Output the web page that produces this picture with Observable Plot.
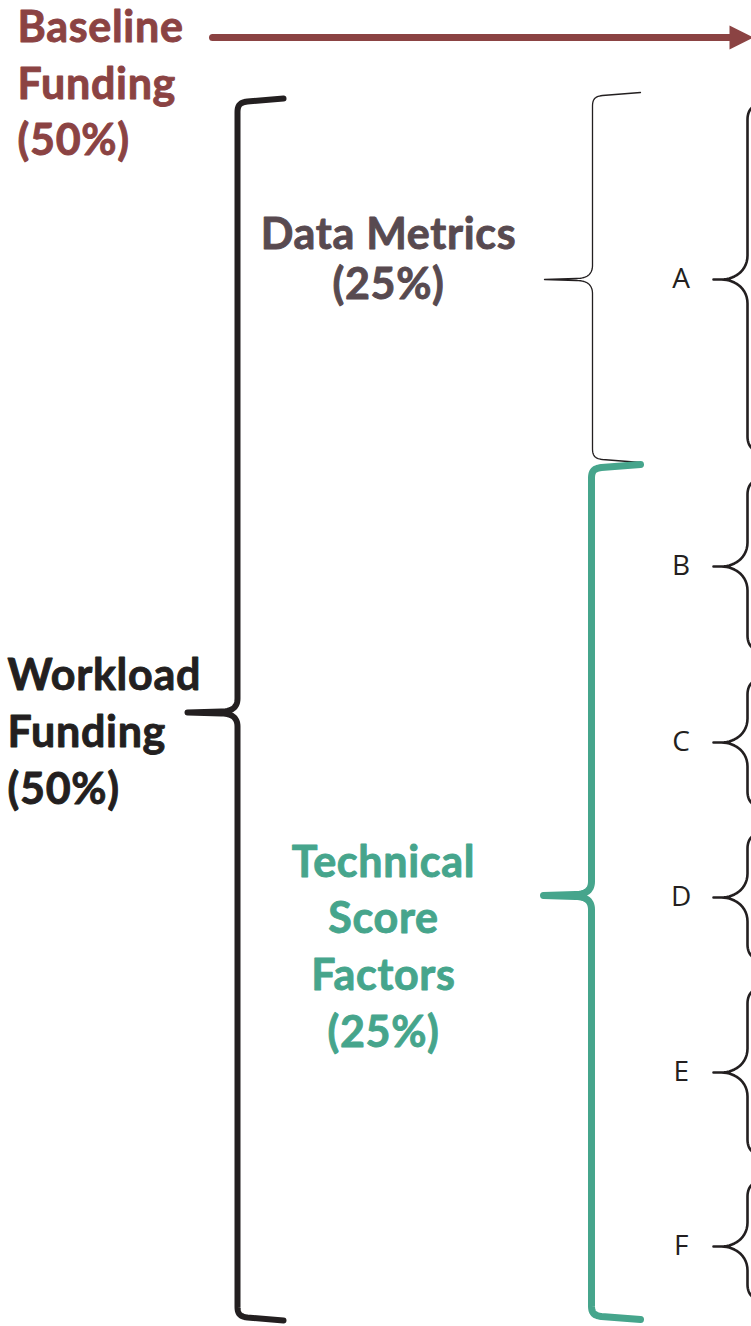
<!DOCTYPE html>
<html>
<head>
<meta charset="utf-8">
<script src="https://cdn.jsdelivr.net/npm/d3@7"></script>
<script src="https://cdn.jsdelivr.net/npm/@observablehq/plot@0.6"></script>
<style>
  html, body { margin: 0; padding: 0; background: #fff; }
  #chart svg { display: block; }
  #chart svg text { letter-spacing: 0.7px; }
</style>
</head>
<body>
<div id="chart"></div>
<script>
// ---- Data (diagram units: 0..751 across, 0..1326 down) ----
// Sub-components on the right
const items = ["A", "B", "C", "D", "E", "F"];
const itemTop = [103, 478, 678, 832, 987, 1180];
const itemTip = [279, 566, 742, 897, 1072, 1246];
const itemBottom = [452, 651, 807, 960, 1155, 1300];

// Main braces: Workload Funding, Data Metrics, Technical Score Factors
const braceNames = ["Workload Funding", "Data Metrics", "Technical Score Factors"];
const braceTop = [98, 92, 464];
const braceTip = [712, 279, 895];
const braceBottom = [1320, 462, 1319];

// Labels (lines of each label)
const baselineLines = ["Baseline", "Funding", "(50%)"];
const workloadLines = ["Workload", "Funding", "(50%)"];
const dataMetricsLines = ["Data Metrics", "(25%)"];
const technicalLines = ["Technical", "Score", "Factors", "(25%)"];

// ---- Geometry helpers (shape of a curly brace) ----
const W = 751, H = 1326;
const black = "#231f20", maroon = "#8b4343", teal = "#46a58c", plum = "#584a50";

function cubic(p0, c1, c2, p1, n = 14) {
  const out = [];
  for (let i = 0; i <= n; i++) {
    const t = i / n, u = 1 - t;
    out.push([
      u*u*u*p0[0] + 3*u*u*t*c1[0] + 3*u*t*t*c2[0] + t*t*t*p1[0],
      u*u*u*p0[1] + 3*u*u*t*c1[1] + 3*u*t*t*c2[1] + t*t*t*p1[1]
    ]);
  }
  return out;
}

function bigBrace(id, top, tip, bottom, vx, endX, tipX, r) {
  let pts = [];
  pts.push([endX, top]);
  pts = pts.concat(cubic([vx + r, top + 3], [vx + 2, top + 4], [vx, top + 7], [vx, top + r + 4]));
  pts = pts.concat(cubic([vx, tip - r - 4], [vx, tip - 5], [vx - 6, tip - 1], [vx - r - 6, tip - 1]));
  pts.push([tipX, tip]);
  pts = pts.concat(cubic([vx - r - 6, tip + 1], [vx - 6, tip + 1], [vx, tip + 5], [vx, tip + r + 4]));
  pts = pts.concat(cubic([vx, bottom - r - 4], [vx, bottom - 7], [vx + 2, bottom - 4], [vx + r, bottom - 3]));
  pts.push([endX, bottom]);
  return pts.map(([x, y]) => ({id, x, y}));
}

function smallBrace(id, top, tip, bottom, vx, tipX) {
  let pts = [];
  pts = pts.concat(cubic([vx + 16, top], [vx + 6, top], [vx, top + 6], [vx, top + 16]));
  pts = pts.concat(cubic([vx, tip - 24], [vx, tip - 8], [vx - 14, tip], [vx - 26, tip]));
  pts.push([tipX, tip]);
  pts = pts.concat(cubic([vx - 26, tip], [vx - 14, tip], [vx, tip + 8], [vx, tip + 24]));
  pts = pts.concat(cubic([vx, bottom - 16], [vx, bottom - 6], [vx + 6, bottom], [vx + 16, bottom]));
  return pts.map(([x, y]) => ({id, x, y}));
}

const workloadPts = bigBrace(braceNames[0], braceTop[0], braceTip[0], braceBottom[0], 237, 283, 187, 10);
const dataPts = bigBrace(braceNames[1], braceTop[1], braceTip[1], braceBottom[1], 592, 640, 544, 10);
const techPts = bigBrace(braceNames[2], braceTop[2], braceTip[2], braceBottom[2], 591, 640, 543, 10);
const itemPts = items.flatMap((k, i) => smallBrace(k, itemTop[i], itemTip[i], itemBottom[i], 747, 713));

const arrowLine = [{x: 212, y: 37}, {x: 733, y: 37}];
const arrowHead = [{x: 729, y: 25}, {x: 753, y: 37}, {x: 729, y: 49}];

const bigFont = 43, lh = 14;
const textOpts = {x: "x", y: "y", text: "t", fontSize: bigFont, fontWeight: "bold", fontFamily: "Lato", lineAnchor: "middle", strokeWidth: 0.9};
const baselineRows = baselineLines.map((t, i) => ({t, x: 17, y: [42, 99, 155][i] - lh}));
const workloadRows = workloadLines.map((t, i) => ({t, x: 7, y: [690, 747, 804][i] - lh}));
const dataRows = dataMetricsLines.map((t, i) => ({t, x: 388, y: [249, 299][i] - lh}));
const techRows = technicalLines.map((t, i) => ({t, x: 383, y: [877, 933, 990, 1047][i] - lh}));

const chart = Plot.plot({
  width: W,
  height: H,
  margin: 0,
  x: {domain: [0, W], range: [0, W], axis: null},
  y: {domain: [0, H], range: [0, H], axis: null},
  style: {background: "#fff"},
  marks: [
    Plot.line(arrowLine, {x: "x", y: "y", stroke: maroon, strokeWidth: 7}),
    Plot.line(arrowHead, {x: "x", y: "y", fill: maroon, stroke: "none"}),
    Plot.line(workloadPts, {x: "x", y: "y", z: "id", stroke: black, strokeWidth: 6, strokeLinejoin: "round"}),
    Plot.line(dataPts, {x: "x", y: "y", z: "id", stroke: black, strokeWidth: 1.3}),
    Plot.line(techPts, {x: "x", y: "y", z: "id", stroke: teal, strokeWidth: 7, strokeLinejoin: "round"}),
    Plot.line(itemPts, {x: "x", y: "y", z: "id", stroke: black, strokeWidth: 2.6}),
    Plot.text(items, {x: () => 681, y: (d, i) => itemTip[i], text: d => d, fontSize: 28, fill: black, fontFamily: "Open Sans", lineAnchor: "middle"}),
    Plot.text(baselineRows, {...textOpts, fill: maroon, stroke: maroon, textAnchor: "start"}),
    Plot.text(workloadRows, {...textOpts, fill: black, stroke: black, textAnchor: "start"}),
    Plot.text(dataRows, {...textOpts, fill: plum, stroke: plum, textAnchor: "middle"}),
    Plot.text(techRows, {...textOpts, fill: teal, stroke: teal, textAnchor: "middle"})
  ]
});
document.getElementById("chart").append(chart);
</script>
</body>
</html>
